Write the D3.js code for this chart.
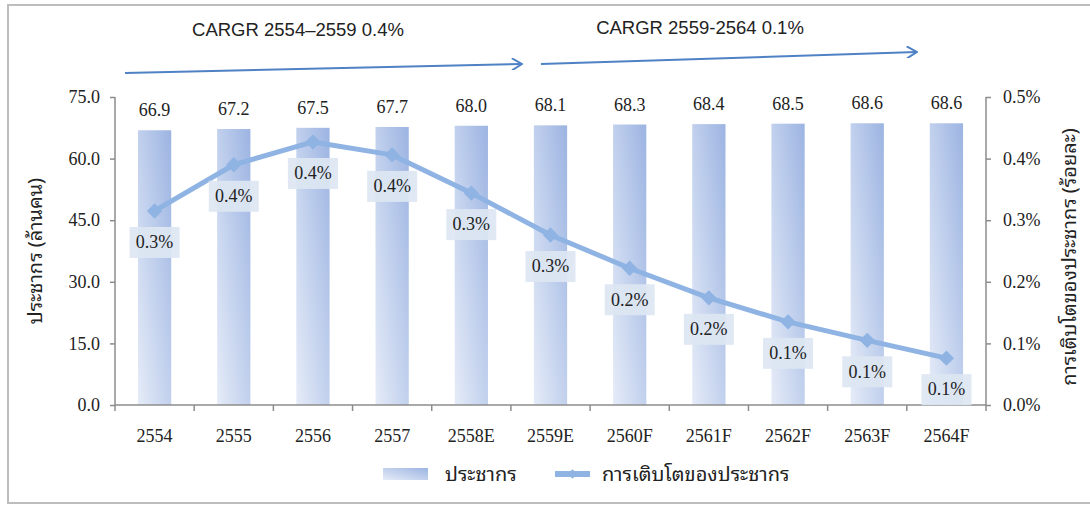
<!DOCTYPE html>
<html>
<head>
<meta charset="utf-8">
<script src="https://cdn.jsdelivr.net/npm/d3@7"></script>
<style>
  body { margin: 0; background: #fff; }
  svg text { fill: #222; }
</style>
</head>
<body>
<div id="chart"></div>
<script>
// Data
var years = ['2554', '2555', '2556', '2557', '2558E', '2559E', '2560F', '2561F', '2562F', '2563F', '2564F'];
var population = [66.9, 67.2, 67.5, 67.7, 68.0, 68.1, 68.3, 68.4, 68.5, 68.6, 68.6];
var growth = [0.315, 0.39, 0.427, 0.406, 0.344, 0.276, 0.222, 0.174, 0.135, 0.105, 0.076];
var growthLabels = ['0.3%', '0.4%', '0.4%', '0.4%', '0.3%', '0.3%', '0.2%', '0.2%', '0.1%', '0.1%', '0.1%'];
var leftTicks = [0, 15, 30, 45, 60, 75];
var rightTicks = [0, 0.1, 0.2, 0.3, 0.4, 0.5];
var seriesNames = ['ประชากร', 'การเติบโตของประชากร'];
var cagrNotes = ['CARGR 2554\u20132559 0.4%', 'CARGR 2559-2564 0.1%'];

var W = 1090, H = 505;
var margin = {top: 97, right: 104, bottom: 100, left: 115};
var width = W - margin.left - margin.right,
    height = H - margin.top - margin.bottom;

var serif = '"Liberation Serif", "Times New Roman", serif';
var sans = '"Liberation Sans", Arial, sans-serif';
var thai = '"Noto Sans Thai Looped", "Noto Serif Thai", "Tahoma", "Noto Sans Thai", "Noto Sans", sans-serif';

var svg = d3.select('#chart').append('svg')
    .attr('width', W)
    .attr('height', H);

// gradient for the bars
var defs = svg.append('defs');
var grad = defs.append('linearGradient')
    .attr('id', 'barGrad')
    .attr('x1', 0).attr('y1', 1).attr('x2', 1).attr('y2', 0);
grad.append('stop').attr('offset', '0%').attr('stop-color', '#e6ecf8');
grad.append('stop').attr('offset', '100%').attr('stop-color', '#9cb4e2');

// outer frame
svg.append('rect')
    .attr('x', 8).attr('y', 5)
    .attr('width', W).attr('height', 498)
    .attr('fill', 'none')
    .attr('stroke', '#bdbdbd')
    .attr('stroke-width', 2);

var g = svg.append('g')
    .attr('transform', 'translate(' + margin.left + ',' + margin.top + ')');

var x = d3.scaleBand().domain(years).range([0, width]).paddingInner(0.58).paddingOuter(0.29);
var xb = d3.scaleBand().domain(years).range([0, width]);
var yL = d3.scaleLinear().domain([0, 75]).range([height, 0]);
var yR = d3.scaleLinear().domain([0, 0.5]).range([height, 0]);

// bars
g.selectAll('.bar')
    .data(population)
    .enter().append('rect')
    .attr('class', 'bar')
    .attr('x', function(d, i) { return x(years[i]); })
    .attr('y', function(d) { return yL(d); })
    .attr('width', x.bandwidth())
    .attr('height', function(d) { return height - yL(d); })
    .attr('fill', 'url(#barGrad)');

// bar value labels
g.selectAll('.barLabel')
    .data(population)
    .enter().append('text')
    .attr('x', function(d, i) { return xb(years[i]) + xb.bandwidth() / 2; })
    .attr('y', function(d) { return yL(d) - 14; })
    .attr('text-anchor', 'middle')
    .style('font-family', serif)
    .style('font-size', '18px')
    .text(function(d) { return d.toFixed(1); });

// axes
var axisColor = '#8c8c8c';
var gl = g.append('g')
    .call(d3.axisLeft(yL).tickValues(leftTicks).tickSize(5).tickPadding(10).tickFormat(d3.format('.1f')));
var gr = g.append('g')
    .attr('transform', 'translate(' + width + ',0)')
    .call(d3.axisRight(yR).tickValues(rightTicks).tickSize(5).tickPadding(12)
      .tickFormat(function(d) { return d.toFixed(1) + '%'; }));
var gx = g.append('g')
    .attr('transform', 'translate(0,' + height + ')')
    .call(d3.axisBottom(xb).tickSize(0).tickPadding(24));

[gl, gr, gx].forEach(function(a) {
  a.select('.domain').attr('stroke', axisColor).attr('stroke-width', 1.5);
  a.selectAll('.tick line').attr('stroke', axisColor).attr('stroke-width', 1.5);
  a.selectAll('text').style('font-family', serif).style('font-size', '18px').attr('fill', '#222');
});
gl.select('.domain').attr('d', 'M0,0V' + height);
gr.select('.domain').attr('d', 'M0,0V' + height);
gx.select('.domain').attr('d', 'M0,0H' + width);

// x tick marks at band boundaries
g.selectAll('.xtick')
    .data(d3.range(years.length + 1))
    .enter().append('line')
    .attr('x1', function(i) { return i * xb.step(); })
    .attr('x2', function(i) { return i * xb.step(); })
    .attr('y1', height)
    .attr('y2', height + 6)
    .attr('stroke', axisColor)
    .attr('stroke-width', 1.5);

// growth line
var lineColor = '#8fb3e3';
var line = d3.line()
    .x(function(d, i) { return xb(years[i]) + xb.bandwidth() / 2; })
    .y(function(d) { return yR(d); });

g.append('path')
    .datum(growth)
    .attr('fill', 'none')
    .attr('stroke', lineColor)
    .attr('stroke-width', 5)
    .attr('stroke-linejoin', 'round')
    .attr('d', line);

var diamond = d3.symbol().type(d3.symbolDiamond2).size(150);
g.selectAll('.marker')
    .data(growth)
    .enter().append('path')
    .attr('d', diamond)
    .attr('transform', function(d, i) {
      return 'translate(' + (xb(years[i]) + xb.bandwidth() / 2) + ',' + yR(d) + ')';
    })
    .attr('fill', lineColor);

// growth labels with boxes
var lbl = g.selectAll('.glabel')
    .data(growth)
    .enter().append('g')
    .attr('transform', function(d, i) {
      return 'translate(' + (xb(years[i]) + xb.bandwidth() / 2) + ',' + (yR(d) + 31) + ')';
    });
lbl.append('rect')
    .attr('x', -25).attr('y', -15)
    .attr('width', 50).attr('height', 31)
    .attr('fill', '#dde6f2')
    .attr('fill-opacity', 0.93);
lbl.append('text')
    .attr('text-anchor', 'middle')
    .attr('dy', '0.35em')
    .style('font-family', serif)
    .style('font-size', '18px')
    .text(function(d, i) { return growthLabels[i]; });

// axis titles
svg.append('text')
    .attr('transform', 'translate(42,' + (margin.top + height / 2) + ') rotate(-90)')
    .attr('text-anchor', 'middle')
    .style('font-family', thai)
    .style('font-size', '20px')
    .text('ประชากร (ล้านคน)');

svg.append('text')
    .attr('transform', 'translate(1076,' + (margin.top + height / 2 + 6) + ') rotate(-90)')
    .attr('text-anchor', 'middle')
    .style('font-family', thai)
    .style('font-size', '20px')
    .text('การเติบโตของประชากร (ร้อยละ)');

// CAGR annotations
defs.append('marker')
    .attr('id', 'arrowHead')
    .attr('viewBox', '0 0 12 12')
    .attr('refX', 11).attr('refY', 6)
    .attr('markerWidth', 12).attr('markerHeight', 12)
    .attr('markerUnits', 'userSpaceOnUse')
    .attr('orient', 'auto')
    .append('path')
    .attr('d', 'M1,0L11,6L1,12')
    .attr('fill', 'none')
    .attr('stroke', '#4f81c5')
    .attr('stroke-width', 2);

var arrows = [
  {x1: xb(years[0]) + 10, y1: 73, x2: xb(years[5]) + 11, y2: 64, tx: 298, ty: 30},
  {x1: xb(years[5]) + 30, y1: 64, x2: xb(years[10]) + 10, y2: 52, tx: 700, ty: 28}
];
arrows.forEach(function(a, i) {
  svg.append('line')
      .attr('x1', margin.left + a.x1).attr('y1', a.y1)
      .attr('x2', margin.left + a.x2).attr('y2', a.y2)
      .attr('stroke', '#4f81c5')
      .attr('stroke-width', 2)
      .attr('marker-end', 'url(#arrowHead)');
  svg.append('text')
      .attr('x', a.tx).attr('y', a.ty)
      .attr('dy', '0.35em')
      .attr('text-anchor', 'middle')
      .style('font-family', sans)
      .style('font-size', '18.5px')
      .text(cagrNotes[i]);
});

// legend
var leg = svg.append('g').attr('transform', 'translate(383,474)');
leg.append('rect')
    .attr('x', 0).attr('y', -6)
    .attr('width', 45).attr('height', 12)
    .attr('fill', 'url(#barGrad)');
leg.append('text')
    .attr('x', 62).attr('dy', '0.35em')
    .style('font-family', thai)
    .style('font-size', '20px')
    .text(seriesNames[0]);
leg.append('line')
    .attr('x1', 172).attr('x2', 207)
    .attr('y1', 0).attr('y2', 0)
    .attr('stroke', lineColor)
    .attr('stroke-width', 6);
leg.append('path')
    .attr('d', d3.symbol().type(d3.symbolDiamond2).size(60))
    .attr('transform', 'translate(189.5,0)')
    .attr('fill', lineColor);
leg.append('text')
    .attr('x', 219).attr('dy', '0.35em')
    .style('font-family', thai)
    .style('font-size', '20px')
    .text(seriesNames[1]);
</script>
</body>
</html>
